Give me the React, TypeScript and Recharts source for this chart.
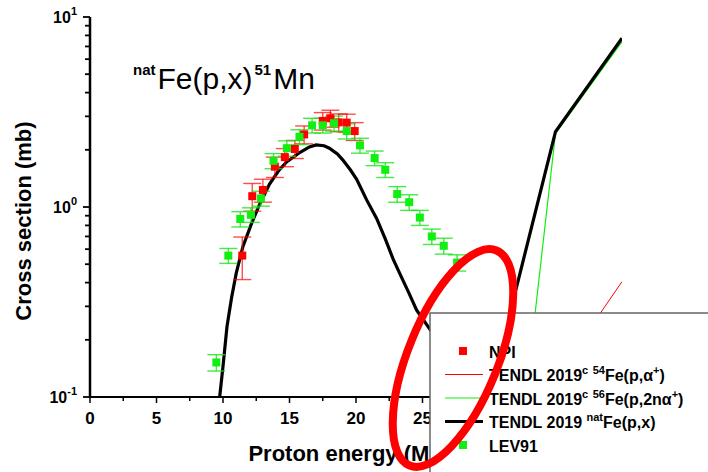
import React from "react";
import { ComposedChart, Line, Scatter, XAxis, YAxis, ErrorBar } from "recharts";

const FONT = '"Liberation Sans", Arial, sans-serif';
const RED = "#ff0000";
const GREEN = "#11ee11";

// NPI measurement (red squares)
const npiEnergy = [11.45, 12.2, 13.0, 13.9, 14.65, 15.4, 16.1, 17.5, 18.07, 18.7, 19.3, 19.9];
const npiXs = [0.555, 1.14, 1.23, 1.63, 1.83, 2.02, 2.41, 2.84, 2.93, 2.79, 2.78, 2.51];
const npiErr = [0.14, 0.19, 0.17, 0.2, 0.2, 0.22, 0.26, 0.3, 0.3, 0.3, 0.3, 0.27];

// LEV91 (green squares)
const levEnergy = [9.5, 10.4, 11.3, 12.1, 12.85, 13.8, 14.8, 15.75, 16.7, 17.5, 18.35, 19.3, 20.3, 21.4, 22.2, 23.1, 24.0, 24.8, 25.7, 26.6, 27.6];
const levXs = [0.152, 0.555, 0.865, 0.91, 1.11, 1.75, 2.04, 2.34, 2.69, 2.69, 2.76, 2.51, 2.11, 1.81, 1.57, 1.17, 1.06, 0.88, 0.7, 0.625, 0.51];
const levErr = [0.015, 0.05, 0.08, 0.08, 0.1, 0.16, 0.19, 0.21, 0.24, 0.24, 0.25, 0.23, 0.19, 0.16, 0.14, 0.11, 0.1, 0.08, 0.065, 0.06, 0.05];

// TENDL 2019 natFe(p,x) (thick black)
const natEnergy = [9.75, 10.0, 10.3, 10.65, 11.0, 11.5, 12.15, 12.8, 13.5, 14.2, 14.8, 15.8, 16.5, 17.0, 17.6, 18.0, 18.6, 19.0, 19.6, 20.05, 20.8, 21.55, 22.2, 22.8, 23.4, 24.0, 24.55, 25.6, 27.0, 28.5, 30, 35, 40];
const natXs = [0.1, 0.145, 0.235, 0.335, 0.45, 0.62, 0.82, 1.05, 1.32, 1.56, 1.73, 1.94, 2.07, 2.12, 2.1, 2.04, 1.9, 1.77, 1.56, 1.4, 1.09, 0.87, 0.68, 0.53, 0.43, 0.35, 0.287, 0.225, 0.16, 0.12, 0.1, 2.49, 7.73];

// TENDL 2019c 54Fe(p,a+) (thin red)
const fe54Energy = [35, 40];
const fe54Xs = [0.125, 0.405];

// TENDL 2019c 56Fe(p,2na+) (thin green)
const fe56Energy = [30, 35, 40];
const fe56Xs = [0.002, 2.44, 7.42];

const xTicks = [0, 2.5, 5, 7.5, 10, 12.5, 15, 17.5, 20, 22.5, 25, 27.5, 30, 32.5, 35, 37.5, 40];
// labels past 25 sit under the legend box in the original, so they are not drawn
const xTickLabels = [0, 5, 10, 15, 20, 25];
const yTicks = [0.1, 0.2, 0.3, 0.4, 0.5, 0.6, 0.7, 0.8, 0.9, 1, 2, 3, 4, 5, 6, 7, 8, 9, 10];

const toRows = (xs: number[], ys: number[], errs?: number[]) =>
  xs.map((x, i) => (errs ? { x, y: ys[i], err: errs[i] } : { x, y: ys[i] }));

const npiData = toRows(npiEnergy, npiXs, npiErr);
const levData = toRows(levEnergy, levXs, levErr);
const natData = toRows(natEnergy, natXs);
const fe54Data = toRows(fe54Energy, fe54Xs);
const fe56Data = toRows(fe56Energy, fe56Xs);

type Part = [string, boolean?];

const legendItems: { kind: string; color: string; parts: Part[] }[] = [
  { kind: "square", color: RED, parts: [["NPI"]] },
  { kind: "thin", color: RED, parts: [["TENDL 2019"], ["c", true], [" "], ["54", true], ["Fe(p,\u03b1"], ["+", true], [")"]] },
  { kind: "thin", color: GREEN, parts: [["TENDL 2019"], ["c", true], [" "], ["56", true], ["Fe(p,2n\u03b1"], ["+", true], [")"]] },
  { kind: "thick", color: "#000", parts: [["TENDL 2019 "], ["nat", true], ["Fe(p,x)"]] },
  { kind: "square", color: GREEN, parts: [["LEV91"]] },
];

const titleParts: Part[] = [["nat", true], ["Fe(p,x)"], ["51", true], ["Mn"]];

function RichText({ x, y, parts, size, weight, supSize, supWeight, rise, gap = 0 }: any) {
  let up = false;
  return (
    <text x={x} y={y} fontFamily={FONT} fill="#000">
      {parts.map(([t, sup]: Part, i: number) => {
        let dy = 0;
        if (sup && !up) { dy = -rise; up = true; }
        else if (!sup && up) { dy = rise; up = false; }
        return (
          <tspan key={i} dy={dy} dx={i > 0 ? gap : 0} fontSize={sup ? supSize : size} fontWeight={sup ? supWeight : weight}>
            {t}
          </tspan>
        );
      })}
    </text>
  );
}

function BottomTick(props: any) {
  const { x, y, payload } = props;
  const v = payload.value;
  const major = v % 5 === 0;
  return (
    <g>
      <line x1={x} x2={x} y1={y} y2={y + (major ? 6 : 4)} stroke="#000" strokeWidth={1.5} />
      {xTickLabels.includes(v) && (
        <text x={x} y={y + 27} textAnchor="middle" fontFamily={FONT} fontWeight="bold" fontSize={17} fill="#000">
          {v}
        </text>
      )}
    </g>
  );
}

function TopTick(props: any) {
  const { x, y, payload } = props;
  const major = payload.value % 5 === 0;
  return <line x1={x} x2={x} y1={y} y2={y + (major ? 4 : 3)} stroke="#333" strokeWidth={1.2} />;
}

function LeftTick(props: any) {
  const { x, y, payload } = props;
  const lg = Math.log10(payload.value);
  const major = Math.abs(lg - Math.round(lg)) < 1e-6;
  return (
    <g>
      <line x1={x - (major ? 7 : 5)} x2={x} y1={y} y2={y} stroke="#000" strokeWidth={1.8} />
      {major && (
        <text x={x - 13} y={y + 6} textAnchor="end" fontFamily={FONT} fontWeight="bold" fontSize={16} fill="#000">
          10
          <tspan fontSize={11} dy={-8}>{Math.round(lg)}</tspan>
        </text>
      )}
    </g>
  );
}

const square = (color: string) => (p: any) =>
  <rect x={p.cx - 4} y={p.cy - 4} width={8} height={8} fill={color} />;

export default function App() {
  return (
    <div style={{ position: "absolute", left: 0, top: 0, width: 708, height: 472, overflow: "hidden", background: "#fff" }}>
      <ComposedChart width={708} height={472} margin={{ top: 17, right: 86, bottom: 0, left: 0 }}>
        <XAxis
          dataKey="x"
          type="number"
          domain={[0, 40]}
          ticks={xTicks}
          interval={0}
          allowDataOverflow
          height={75}
          tickSize={0}
          tickMargin={0}
          tickLine={false}
          tick={<BottomTick />}
          axisLine={{ stroke: "#000", strokeWidth: 2 }}
        />
        <XAxis
          xAxisId="top"
          orientation="top"
          dataKey="x"
          type="number"
          domain={[0, 40]}
          ticks={xTicks}
          interval={0}
          height={0}
          tickSize={0}
          tickMargin={0}
          tickLine={false}
          tick={<TopTick />}
          axisLine={{ stroke: "#444", strokeWidth: 2 }}
        />
        <YAxis
          dataKey="y"
          type="number"
          scale="log"
          domain={[0.1, 10]}
          ticks={yTicks}
          interval={0}
          allowDataOverflow
          width={90}
          tickSize={0}
          tickMargin={0}
          tickLine={false}
          tick={<LeftTick />}
          axisLine={{ stroke: "#000", strokeWidth: 2.5 }}
        />
        <YAxis
          yAxisId="right"
          orientation="right"
          type="number"
          scale="log"
          domain={[0.1, 10]}
          allowDataOverflow
          width={0}
          tick={false}
          tickLine={false}
          axisLine={{ stroke: "#000", strokeWidth: 3 }}
        />
        <Line data={fe54Data} dataKey="y" type="linear" stroke={RED} strokeWidth={1} dot={false} isAnimationActive={false} />
        <Line data={fe56Data} dataKey="y" type="linear" stroke={GREEN} strokeWidth={1.2} dot={false} isAnimationActive={false} />
        <Line data={natData} dataKey="y" type="linear" stroke="#000" strokeWidth={3.2} dot={false} isAnimationActive={false} />
        <Scatter data={npiData} dataKey="y" shape={square(RED)} isAnimationActive={false}>
          <ErrorBar dataKey="err" direction="y" width={9} stroke="rgba(255,0,0,0.7)" strokeWidth={1.4} isAnimationActive={false} />
        </Scatter>
        <Scatter data={levData} dataKey="y" shape={square(GREEN)} isAnimationActive={false}>
          <ErrorBar dataKey="err" direction="y" width={9} stroke="rgba(20,230,20,0.8)" strokeWidth={1.4} isAnimationActive={false} />
        </Scatter>
      </ComposedChart>

      <svg width={708} height={472} style={{ position: "absolute", left: 0, top: 0, pointerEvents: "none" }}>
        <RichText x={133} y={89} parts={titleParts} size={30} weight="normal" supSize={15} supWeight="bold" rise={14} gap={2} />
        <text x={356} y={461} textAnchor="middle" fontFamily={FONT} fontWeight="bold" fontSize={22} fill="#000">
          Proton energy (MeV)
        </text>
        <text x={31} y={221} transform="rotate(-90 31 221)" textAnchor="middle" fontFamily={FONT} fontWeight="bold" fontSize={22} fill="#000">
          Cross section (mb)
        </text>

        <rect x={430} y={313} width={300} height={200} fill="#fff" stroke="#666" strokeWidth={1.5} />
        {legendItems.map((item, i) => {
          const cy = 351 + i * 23.5;
          return (
            <g key={i}>
              {item.kind === "square" ? (
                <rect x={459} y={cy - 4} width={8} height={8} fill={item.color} />
              ) : (
                <line x1={445} x2={483} y1={cy} y2={cy} stroke={item.color} strokeWidth={item.kind === "thick" ? 3 : 1} />
              )}
              <RichText x={489} y={cy + 6.5} parts={item.parts} size={16} weight="bold" supSize={11} supWeight="bold" rise={7} />
            </g>
          );
        })}

        <ellipse cx={453} cy={358} rx={45} ry={116} transform="rotate(22 453 358)" fill="none" stroke={RED} strokeWidth={8} />
      </svg>
    </div>
  );
}
